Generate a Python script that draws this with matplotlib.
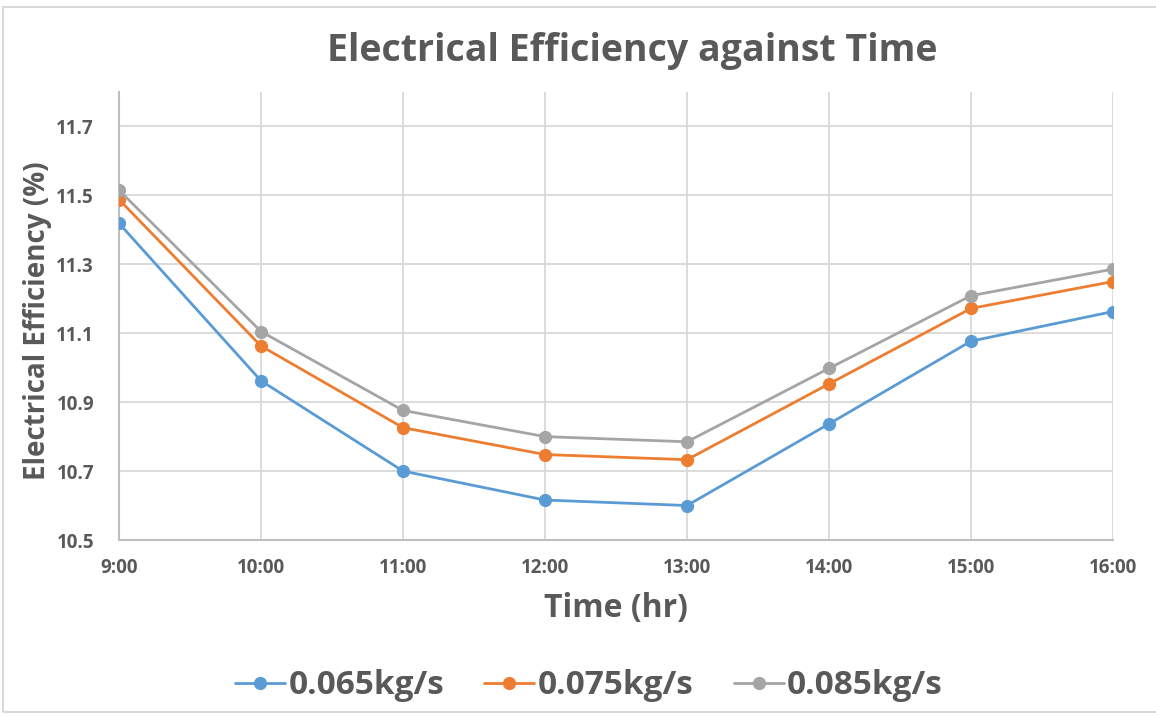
import matplotlib
matplotlib.use("Agg")
import matplotlib.pyplot as plt
from matplotlib.patches import Rectangle

times = ["9:00", "10:00", "11:00", "12:00", "13:00", "14:00", "15:00", "16:00"]
series_names = ["0.065kg/s", "0.075kg/s", "0.085kg/s"]
eff_065 = [11.419, 10.962, 10.700, 10.616, 10.600, 10.837, 11.077, 11.163]
eff_075 = [11.488, 11.063, 10.826, 10.748, 10.733, 10.953, 11.172, 11.250]
eff_085 = [11.515, 11.105, 10.876, 10.800, 10.785, 10.998, 11.209, 11.286]
yticks = [10.5, 10.7, 10.9, 11.1, 11.3, 11.5, 11.7]

colors = ["#5B9BD5", "#ED7D31", "#A5A5A5"]
txt = "#595959"
font = ["Open Sans", "DejaVu Sans"]
plt.rcParams['font.family'] = font

fig = plt.figure(figsize=(11.56, 7.16), dpi=100)
fig.patches.append(Rectangle((3/1156, 0.005), 1.2, (716-8-3)/716, transform=fig.transFigure,
                             fill=False, edgecolor="#D9D9D9", linewidth=1.5))
ax = fig.add_axes([119/1156, 1-540/716, (1113-119)/1156, (540-92)/716])

x = list(range(len(times)))
for vals, c, name in zip([eff_065, eff_075, eff_085], colors, series_names):
    ax.plot(x, vals, color=c, linewidth=2.0, marker='o', markersize=8.5, label=name,
            solid_capstyle='round', zorder=3)

ax.set_xlim(0, len(times)-1)
ax.set_ylim(10.5, 11.8)
ax.set_xticks(x)
ax.set_xticklabels(times)
ax.set_yticks(yticks)
ax.set_yticklabels([f"{v:.1f}" for v in yticks])
ax.grid(True, color="#D9D9D9", linewidth=1.3, zorder=0)
ax.set_axisbelow(True)
for s in ["top", "right"]:
    ax.spines[s].set_visible(False)
ax.spines["left"].set_color("#BFBFBF")
ax.spines["bottom"].set_color("#BFBFBF")
ax.spines["left"].set_linewidth(1.5)
ax.spines["bottom"].set_linewidth(1.5)
ax.tick_params(length=0, labelsize=13.5, labelcolor=txt)
ax.tick_params(axis='x', pad=13)
ax.tick_params(axis='y', pad=18)
for lab in ax.get_xticklabels() + ax.get_yticklabels():
    lab.set_fontweight("bold")

fig.text(632/1156, 1-51/716, "Electrical Efficiency against Time", ha="center", va="center",
         fontsize=27, fontweight="bold", color=txt)
ax.set_xlabel("Time (hr)", fontsize=23, fontweight="bold", color=txt)
ax.xaxis.set_label_coords((616-119)/994, -(592-540)/448)
ax.set_ylabel("Electrical Efficiency (%)", fontsize=20, fontweight="bold", color=txt)
ax.yaxis.set_label_coords((52-119)/994, 0.49)

leg = fig.legend(loc="center", bbox_to_anchor=(589/1156, 1-686/716), ncol=3, frameon=False,
                 prop={"size": 24, "weight": "bold", "family": font}, handlelength=1.5,
                 columnspacing=1.2, handletextpad=0.1)
for t in leg.get_texts():
    t.set_color(txt)

fig.savefig("out.png", dpi=100)
